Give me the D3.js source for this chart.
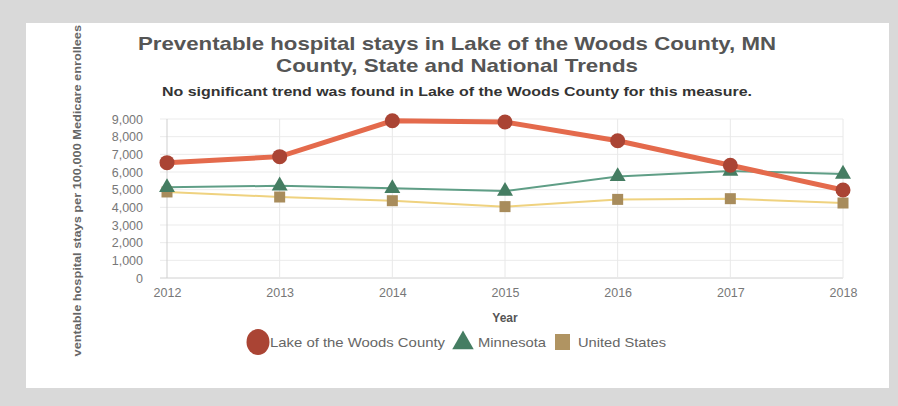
<!DOCTYPE html>
<html><head><meta charset="utf-8">
<script src="https://cdn.jsdelivr.net/npm/d3@7/dist/d3.min.js"></script>
<style>body{margin:0;background:#d9d9d9;}svg{display:block;font-family:"Liberation Sans",Arial,sans-serif;}</style>
</head><body><svg id="c" width="898" height="406"></svg>
<script>
const years = [2012, 2013, 2014, 2015, 2016, 2017, 2018];
const lakeOfTheWoods = [6530, 6870, 8900, 8830, 7770, 6380, 4980];
const minnesota = [5130, 5220, 5075, 4920, 5750, 6055, 5885];
const unitedStates = [4870, 4585, 4375, 4040, 4450, 4490, 4245];
const yTicks = [0, 1000, 2000, 3000, 4000, 5000, 6000, 7000, 8000, 9000];
const seriesNames = ["Lake of the Woods County", "Minnesota", "United States"];

const svg = d3.select("#c");
svg.append("rect").attr("x",0).attr("y",0).attr("width",898).attr("height",406).attr("fill","#d9d9d9");
svg.append("rect").attr("x",26).attr("y",23).attr("width",863).attr("height",365).attr("fill","#fff");

const x = d3.scaleLinear().domain([2012, 2018]).range([167, 843]);
const y = d3.scaleLinear().domain([0, 9000]).range([278, 119]);

// grid
const g = svg.append("g");
g.selectAll("line.h").data(yTicks).join("line")
  .attr("x1",160).attr("x2",843).attr("y1",d=>y(d)).attr("y2",d=>y(d))
  .attr("stroke", d=>d===0?"#d0d0d0":"#ebebeb").attr("stroke-width",1);
g.selectAll("line.v").data(years).join("line")
  .attr("x1",d=>x(d)).attr("x2",d=>x(d)).attr("y1",119).attr("y2",278)
  .attr("stroke",(d,i)=>i===0?"#cfcfcf":"#e8e8e8").attr("stroke-width",1);

// axes
const yAxis = d3.axisLeft(y).tickValues(yTicks).tickFormat(d3.format(",")).tickSize(0).tickPadding(0);
const ya = svg.append("g").attr("transform","translate(143,0)").call(yAxis);
ya.select(".domain").remove();
ya.selectAll("text").attr("fill","#777").attr("font-size","12.5px").attr("font-family","\"Liberation Sans\",Arial,sans-serif");

const xAxis = d3.axisBottom(x).tickValues(years).tickFormat(d3.format("d")).tickSize(0).tickPadding(0);
const xa = svg.append("g").attr("transform","translate(0,288)").call(xAxis);
xa.select(".domain").remove();
xa.selectAll("text").attr("fill","#777").attr("font-size","12.5px").attr("font-family","\"Liberation Sans\",Arial,sans-serif");

// lines
const line = d3.line().x((d,i)=>x(years[i])).y(d=>y(d));
svg.append("path").datum(unitedStates).attr("d",line).attr("fill","none").attr("stroke","#efd27f").attr("stroke-width",2);
svg.append("path").datum(minnesota).attr("d",line).attr("fill","none").attr("stroke","#5f9e86").attr("stroke-width",2);
svg.append("path").datum(lakeOfTheWoods).attr("d",line).attr("fill","none").attr("stroke","#e46a4c").attr("stroke-width",5);

// markers
const tri = d3.symbol().type(d3.symbolTriangle).size(110);
svg.selectAll("path.us").data(unitedStates).join("rect")
  .attr("x",(d,i)=>x(years[i])-5.5).attr("y",d=>y(d)-5.5).attr("width",11).attr("height",11).attr("fill","#a88c5c");
svg.selectAll("path.mn").data(minnesota).join("path")
  .attr("d",tri).attr("transform",(d,i)=>`translate(${x(years[i])},${y(d)})`).attr("fill","#457d62");
svg.selectAll("ellipse.lw").data(lakeOfTheWoods).join("ellipse")
  .attr("cx",(d,i)=>x(years[i])).attr("cy",d=>y(d)).attr("rx",7.5).attr("ry",7.5).attr("fill","#aa4434");

// titles
svg.append("text").attr("x",457).attr("y",50).attr("text-anchor","middle").attr("font-size","19px").attr("font-weight","bold").attr("fill","#555")
  .attr("textLength",638).attr("lengthAdjust","spacingAndGlyphs").text("Preventable hospital stays in Lake of the Woods County, MN");
svg.append("text").attr("x",457).attr("y",72).attr("text-anchor","middle").attr("font-size","19px").attr("font-weight","bold").attr("fill","#555")
  .attr("textLength",362).attr("lengthAdjust","spacingAndGlyphs").text("County, State and National Trends");
svg.append("text").attr("x",457).attr("y",96).attr("text-anchor","middle").attr("font-size","13px").attr("font-weight","bold").attr("fill","#333")
  .attr("textLength",590).attr("lengthAdjust","spacingAndGlyphs").text("No significant trend was found in Lake of the Woods County for this measure.");

// axis titles
svg.append("text").attr("x",505).attr("y",322).attr("text-anchor","middle").attr("font-size","12px").attr("font-weight","bold").attr("fill","#555").text("Year");
svg.append("clipPath").attr("id","yclip").append("rect").attr("x",60).attr("y",23).attr("width",40).attr("height",334);
svg.append("g").attr("clip-path","url(#yclip)").append("text")
  .attr("transform","translate(81,25) rotate(-90)").attr("text-anchor","end").attr("font-size","11.5px").attr("font-weight","bold").attr("fill","#666")
  .attr("textLength",352).attr("lengthAdjust","spacingAndGlyphs").text("Preventable hospital stays per 100,000 Medicare enrollees");

// legend
const lg = svg.append("g");
lg.append("ellipse").attr("cx",258).attr("cy",342).attr("rx",11.5).attr("ry",13).attr("fill","#aa4434");
lg.append("text").attr("x",270).attr("y",347).attr("font-size","13px").attr("fill","#666").attr("textLength",175).attr("lengthAdjust","spacingAndGlyphs").text(seriesNames[0]);
lg.append("path").attr("d",d3.symbol().type(d3.symbolTriangle).size(200)).attr("transform","translate(463,343)").attr("fill","#457d62");
lg.append("text").attr("x",478).attr("y",347).attr("font-size","13px").attr("fill","#666").attr("textLength",68).attr("lengthAdjust","spacingAndGlyphs").text(seriesNames[1]);
lg.append("rect").attr("x",555).attr("y",334).attr("width",15).attr("height",16).attr("fill","#b09462");
lg.append("text").attr("x",578).attr("y",347).attr("font-size","13px").attr("fill","#666").attr("textLength",88).attr("lengthAdjust","spacingAndGlyphs").text(seriesNames[2]);
</script></body></html>
